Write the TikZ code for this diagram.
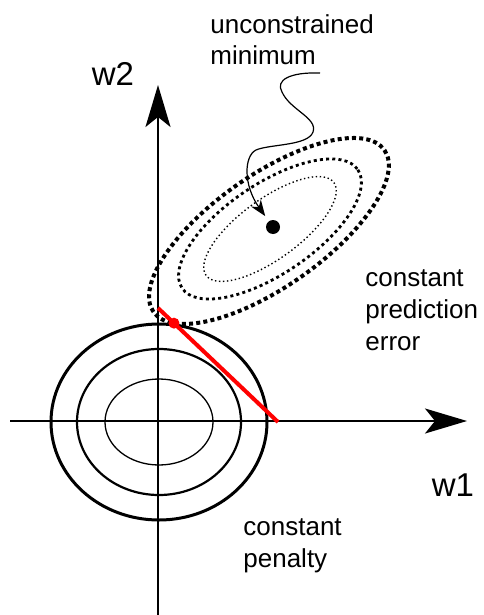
\documentclass[tikz,border=0pt]{standalone}
\usepackage{fontspec}
\setmainfont{Liberation Sans}
\usepackage{xcolor}
\usetikzlibrary{arrows.meta}

\begin{document}
\begin{tikzpicture}[x=0.5pt,y=-0.5pt,
  axis/.style={line width=1pt,-{Stealth[length=21pt,width=12.5pt,inset=5pt]}},
  lbl/.style={font=\fontsize{13}{15.8}\selectfont,align=left,inner sep=0pt},
  wlbl/.style={font=\fontsize{16.5}{20}\selectfont,inner sep=0pt},
  mindot/.style={circle,fill=black,inner sep=0pt,minimum size=7pt},
  reddot/.style={circle,fill=red,inner sep=0pt,minimum size=5.5pt},
  err1/.style={line width=2pt,dash pattern=on 2pt off 1.6pt},
  err2/.style={line width=1.4pt,dash pattern=on 1.5pt off 1.6pt},
  err3/.style={line width=0.7pt,dash pattern=on 0.7pt off 1.3pt}]
\useasboundingbox (0,0) rectangle (483,615);
% penalty contours
\coordinate (O) at (159,422);
\draw[line width=0.65pt] (O) ellipse [x radius=54, y radius=43];
\draw[line width=1.1pt] (O) ellipse [x radius=82, y radius=73];
\draw[line width=1.5pt] (O) ellipse [x radius=108, y radius=98];
% prediction error contours
\coordinate (C) at (270,229);
\draw[err3,rotate around={36:(C)}] (C) ellipse [x radius=79, y radius=30];
\draw[err2,rotate around={34:(C)}] (C) ellipse [x radius=106, y radius=45];
\draw[err1,rotate around={35:(C)}] (268,230) ellipse [x radius=141, y radius=56];
% axes
\coordinate (xs) at (10,421);
\coordinate (xe) at (467,421);
\coordinate (ys) at (158,615);
\coordinate (ye) at (158,85);
\draw[axis] (xs) -- (xe);
\draw[axis] (ys) -- (ye);
\node[wlbl] (w1) at (453,485) {w1};
\node[wlbl] (w2) at (113,74) {w2};
% constraint line
\coordinate (rA) at (158,308);
\coordinate (rB) at (278,422);
\draw[red,line width=2pt] (rA) -- (rB) node[pos=0.133,reddot] (touch) {};
% minimum
\node[mindot] (umin) at (273,227) {};
\node[lbl,anchor=base west] (umtxt) at (210,65) {unconstrained\\minimum};
\coordinate (ws) at (320,73);
\draw[line width=0.6pt,-{Stealth[length=8pt,width=6pt,inset=2.5pt]},shorten >=3pt]
  (ws) .. controls (290,72) and (275,80) .. (282,92)
  .. controls (290,110) and (318,118) .. (313,132)
  .. controls (308,146) and (270,144) .. (256,150)
  .. controls (244,156) and (243,185) .. (umin);
\node[lbl,anchor=base west] (errtxt) at (365,350) {constant\\prediction\\error};
\node[lbl,anchor=base west] (pentxt) at (243,567) {constant\\penalty};
\end{tikzpicture}
\end{document}
